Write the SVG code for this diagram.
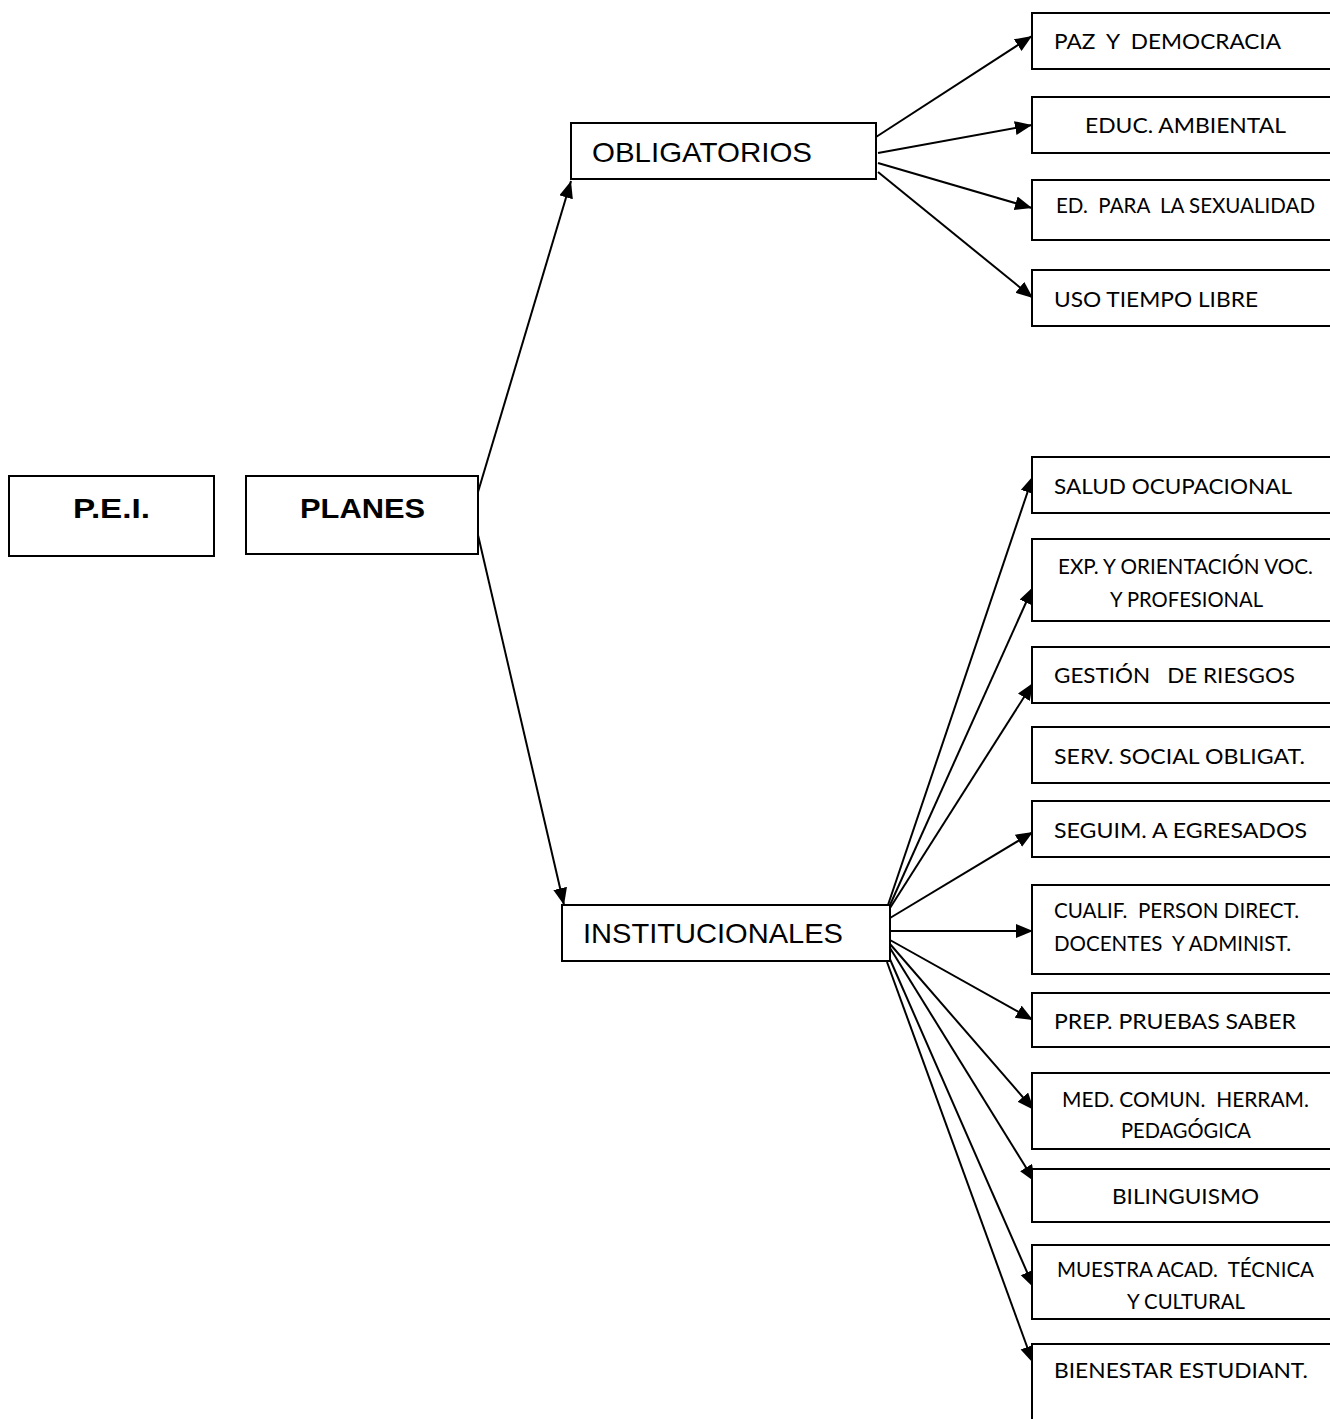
<svg xmlns="http://www.w3.org/2000/svg" width="1330" height="1419" viewBox="0 0 1330 1419">
<style>
.box{fill:#fff;stroke:#000;stroke-width:2}
.t{font-family:Lato,"Open Sans","Liberation Sans",sans-serif;font-size:22px;fill:#000}
.a{font-family:"Liberation Sans",Arial,sans-serif;font-size:28px;fill:#000}
.b{font-family:"Liberation Sans",Arial,sans-serif;font-size:28px;font-weight:bold;fill:#000}
.c{stroke:#000;stroke-width:2;fill:none;marker-end:url(#ah)}
</style>
<defs>
<marker id="ah" markerUnits="userSpaceOnUse" markerWidth="20" markerHeight="16" refX="17" refY="7" orient="auto">
<path d="M0,0 L17,7 L0,14 Z" fill="#000"/>
</marker>
</defs>
<rect width="1330" height="1419" fill="#fff"/>
<g id="connectors">
<line class="c" x1="478" y1="492" x2="571" y2="181"/>
<line class="c" x1="478" y1="535" x2="564" y2="905"/>
<line class="c" x1="876" y1="137" x2="1032" y2="36"/>
<line class="c" x1="878" y1="153" x2="1032" y2="125"/>
<line class="c" x1="878" y1="163" x2="1032" y2="208"/>
<line class="c" x1="878" y1="172" x2="1033" y2="298"/>
<line class="c" x1="888" y1="905" x2="1033" y2="476"/>
<line class="c" x1="890" y1="905" x2="1033" y2="587"/>
<line class="c" x1="890" y1="908" x2="1033" y2="683"/>
<line class="c" x1="890" y1="918" x2="1033" y2="832"/>
<line class="c" x1="890" y1="931" x2="1033" y2="931"/>
<line class="c" x1="890" y1="940" x2="1033" y2="1020"/>
<line class="c" x1="890" y1="944" x2="1034" y2="1110"/>
<line class="c" x1="890" y1="948" x2="1035" y2="1182"/>
<line class="c" x1="889" y1="957" x2="1034" y2="1288"/>
<line class="c" x1="887" y1="962" x2="1033" y2="1363"/>
</g>
<g id="pei"><rect class="box" x="9" y="476" width="205" height="80"/><text class="b" x="73" y="518" textLength="77" lengthAdjust="spacingAndGlyphs">P.E.I.</text></g>
<g id="planes"><rect class="box" x="246" y="476" width="232" height="78"/><text class="b" x="300" y="518" textLength="125" lengthAdjust="spacingAndGlyphs">PLANES</text></g>
<g id="obligatorios"><rect class="box" x="571" y="123" width="305" height="56"/><text class="a" x="592" y="162" textLength="220" lengthAdjust="spacingAndGlyphs">OBLIGATORIOS</text></g>
<g id="institucionales"><rect class="box" x="562" y="905" width="328" height="56"/><text class="a" x="583" y="943" textLength="260" lengthAdjust="spacingAndGlyphs">INSTITUCIONALES</text></g>
<g id="paz"><rect class="box" x="1032" y="13" width="305" height="56"/><text class="t" x="1054" y="49" textLength="227" lengthAdjust="spacingAndGlyphs" xml:space="preserve">PAZ  Y  DEMOCRACIA</text></g>
<g id="educ"><rect class="box" x="1032" y="97" width="305" height="56"/><text class="t" x="1085" y="133" textLength="201" lengthAdjust="spacingAndGlyphs">EDUC. AMBIENTAL</text></g>
<g id="sexualidad"><rect class="box" x="1032" y="180" width="305" height="60"/><text class="t" x="1056" y="213" textLength="259" lengthAdjust="spacingAndGlyphs" xml:space="preserve">ED.  PARA  LA SEXUALIDAD</text></g>
<g id="uso"><rect class="box" x="1032" y="270" width="305" height="56"/><text class="t" x="1054" y="307" textLength="204" lengthAdjust="spacingAndGlyphs">USO TIEMPO LIBRE</text></g>
<g id="salud"><rect class="box" x="1032" y="457" width="305" height="56"/><text class="t" x="1054" y="494" textLength="238" lengthAdjust="spacingAndGlyphs">SALUD OCUPACIONAL</text></g>
<g id="exp"><rect class="box" x="1032" y="539" width="305" height="82"/><text class="t" x="1058" y="574" textLength="255" lengthAdjust="spacingAndGlyphs">EXP. Y ORIENTACIÓN VOC.</text><text class="t" x="1110" y="607" textLength="153" lengthAdjust="spacingAndGlyphs">Y PROFESIONAL</text></g>
<g id="gestion"><rect class="box" x="1032" y="647" width="305" height="56"/><text class="t" x="1054" y="683" textLength="241" lengthAdjust="spacingAndGlyphs" xml:space="preserve">GESTIÓN   DE RIESGOS</text></g>
<g id="serv"><rect class="box" x="1032" y="727" width="305" height="56"/><text class="t" x="1054" y="764" textLength="251" lengthAdjust="spacingAndGlyphs">SERV. SOCIAL OBLIGAT.</text></g>
<g id="seguim"><rect class="box" x="1032" y="801" width="305" height="56"/><text class="t" x="1054" y="838" textLength="253" lengthAdjust="spacingAndGlyphs">SEGUIM. A EGRESADOS</text></g>
<g id="cualif"><rect class="box" x="1032" y="885" width="305" height="89"/><text class="t" x="1054" y="918" textLength="245" lengthAdjust="spacingAndGlyphs" xml:space="preserve">CUALIF.  PERSON DIRECT.</text><text class="t" x="1054" y="951" textLength="237" lengthAdjust="spacingAndGlyphs" xml:space="preserve">DOCENTES  Y ADMINIST.</text></g>
<g id="prep"><rect class="box" x="1032" y="993" width="305" height="54"/><text class="t" x="1054" y="1029" textLength="242" lengthAdjust="spacingAndGlyphs">PREP. PRUEBAS SABER</text></g>
<g id="med"><rect class="box" x="1032" y="1073" width="305" height="76"/><text class="t" x="1062" y="1107" textLength="247" lengthAdjust="spacingAndGlyphs" xml:space="preserve">MED. COMUN.  HERRAM.</text><text class="t" x="1121" y="1138" textLength="130" lengthAdjust="spacingAndGlyphs">PEDAGÓGICA</text></g>
<g id="bilinguismo"><rect class="box" x="1032" y="1169" width="305" height="53"/><text class="t" x="1112" y="1204" textLength="147" lengthAdjust="spacingAndGlyphs">BILINGUISMO</text></g>
<g id="muestra"><rect class="box" x="1032" y="1245" width="305" height="74"/><text class="t" x="1057" y="1277" textLength="257" lengthAdjust="spacingAndGlyphs" xml:space="preserve">MUESTRA ACAD.  TÉCNICA</text><text class="t" x="1127" y="1309" textLength="118" lengthAdjust="spacingAndGlyphs">Y CULTURAL</text></g>
<g id="bienestar"><rect class="box" x="1032" y="1344" width="305" height="90"/><text class="t" x="1054" y="1378" textLength="254" lengthAdjust="spacingAndGlyphs">BIENESTAR ESTUDIANT.</text></g>
</svg>
